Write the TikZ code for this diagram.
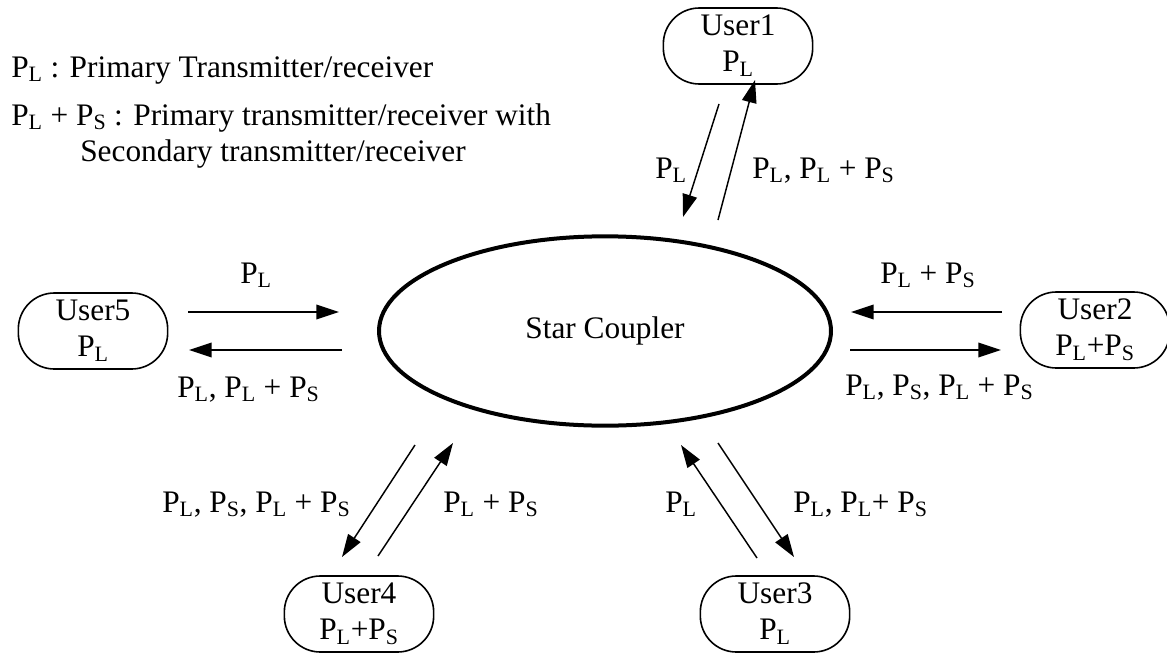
\documentclass[tikz,border=0pt]{standalone}
\usepackage{fontspec}
\setmainfont{Liberation Serif}
\usetikzlibrary{arrows.meta,shapes.geometric}
\newcommand{\PL}{P\textsubscript{L}}
\newcommand{\PS}{P\textsubscript{S}}
\tikzset{
  txt/.style={font=\fontsize{23.5}{27}\selectfont},
  user/.style={txt, draw, line width=1.2pt, rounded corners=27pt, minimum width=112pt,
    minimum height=57pt, align=center, inner sep=0pt},
  coupler/.style={txt, draw, ellipse, line width=3pt, minimum width=339pt, minimum height=142pt},
  link/.style={line width=1.1pt, -{Triangle[length=17pt,width=11pt]}},
  lbl/.style={txt, inner sep=0pt, anchor=base west},
}
\begin{document}
\begin{tikzpicture}[x=0.75pt,y=-0.75pt]
\useasboundingbox (0,0) rectangle (1167,653);

% legend
\node[lbl] (leg1) at (11,77) {\PL{} : Primary Transmitter/receiver};
\node[lbl] (leg2) at (11,125) {\PL{} + \PS{} : Primary transmitter/receiver with};
\node[lbl] (leg3) at (80,161) {Secondary transmitter/receiver};

% star coupler
\node[coupler] (sc) at (605,331) {Star Coupler};

% users
\node[user] (u1) at (738,46) {User1\\\PL};
\node[user] (u2) at (1095,330) {User2\\\PL+\PS};
\node[user] (u3) at (775,614) {User3\\\PL};
\node[user] (u4) at (359,614) {User4\\\PL+\PS};
\node[user] (u5) at (93,331) {User5\\\PL};

% link end points
\coordinate (a1s) at (719,104);  \coordinate (a1e) at (683,217);
\coordinate (b1s) at (718,220);  \coordinate (b1e) at (755,80);
\coordinate (a5s) at (188,312);  \coordinate (a5e) at (339,312);
\coordinate (b5s) at (342,350);  \coordinate (b5e) at (189,350);
\coordinate (a2s) at (1002,312); \coordinate (a2e) at (851,312);
\coordinate (b2s) at (850,350);  \coordinate (b2e) at (1001,350);
\coordinate (a4s) at (415,445);  \coordinate (a4e) at (342,557);
\coordinate (b4s) at (378,556);  \coordinate (b4e) at (453,443);
\coordinate (a3s) at (757,558);  \coordinate (a3e) at (681,445);
\coordinate (b3s) at (718,443);  \coordinate (b3e) at (794,557);

% links
\draw[link] (a1s) -- (a1e);
\draw[link] (b1s) -- (b1e);
\draw[link] (a5s) -- (a5e);
\draw[link] (b5s) -- (b5e);
\draw[link] (a2s) -- (a2e);
\draw[link] (b2s) -- (b2e);
\draw[link] (a4s) -- (a4e);
\draw[link] (b4s) -- (b4e);
\draw[link] (a3s) -- (a3e);
\draw[link] (b3s) -- (b3e);

% link labels
\node[lbl] (l1a) at (655,178) {\PL};
\node[lbl] (l1b) at (752,178) {\PL, \PL{} + \PS};
\node[lbl] (l5a) at (240,283) {\PL};
\node[lbl] (l5b) at (177,397) {\PL, \PL{} + \PS};
\node[lbl] (l2a) at (880,283) {\PL{} + \PS};
\node[lbl] (l2b) at (845,395) {\PL, \PS, \PL{} + \PS};
\node[lbl] (l4a) at (162,512) {\PL, \PS, \PL{} + \PS};
\node[lbl] (l4b) at (443,512) {\PL{} + \PS};
\node[lbl] (l3a) at (665,512) {\PL};
\node[lbl] (l3b) at (793,512) {\PL, \PL+ \PS};
\end{tikzpicture}
\end{document}
